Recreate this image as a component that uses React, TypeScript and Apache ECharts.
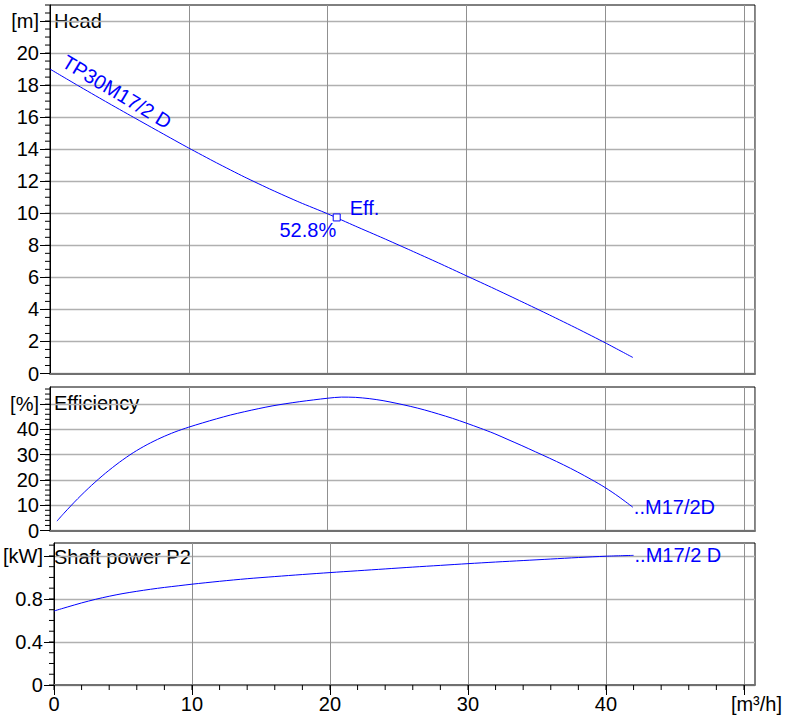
import React, { useEffect, useRef } from 'react';
import * as echarts from 'echarts';

// ---------- data ----------
const flowHead = [0, 2, 4, 6, 8, 10, 12, 14, 16, 18, 20, 22, 24, 26, 28, 30, 32, 34, 36, 38, 40, 42];
const headValues = [19.0, 17.98, 16.98, 16.0, 15.03, 14.07, 13.15, 12.27, 11.45, 10.68, 9.97, 9.2, 8.45, 7.68, 6.9, 6.1, 5.3, 4.48, 3.65, 2.8, 1.92, 1.0];

const flowEff = [0.5, 1, 2, 3, 4, 5, 6, 7, 8, 9, 10, 11, 12, 13, 14, 15, 16, 17, 18, 19, 20, 21, 22, 23, 24, 25, 26, 27, 28, 29, 30, 31, 32, 33, 34, 35, 36, 37, 38, 39, 40, 41, 42];
const effValues = [3.7, 6.8, 12.6, 17.9, 22.7, 27.0, 30.8, 34.0, 36.7, 39.0, 40.9, 42.6, 44.2, 45.7, 47.0, 48.2, 49.3, 50.2, 51.0, 51.7, 52.35, 52.8, 52.7, 52.2, 51.4, 50.3, 49.1, 47.7, 46.1, 44.4, 42.5, 40.5, 38.4, 36.0, 33.6, 31.1, 28.6, 26.0, 23.2, 20.2, 17.0, 13.3, 9.2];

const flowPower = [0, 1, 2, 3, 4, 5, 6, 7, 8, 9, 10, 12, 14, 16, 18, 20, 22, 24, 26, 28, 30, 32, 34, 36, 38, 40, 42];
const powerValues = [0.688, 0.726, 0.763, 0.796, 0.825, 0.85, 0.871, 0.89, 0.907, 0.922, 0.937, 0.964, 0.988, 1.008, 1.027, 1.045, 1.062, 1.079, 1.096, 1.112, 1.128, 1.143, 1.157, 1.171, 1.185, 1.197, 1.205];

const bepFlow = 20.66;
const bepHead = 9.74;
const bepEffText = '52.8%';
const pumpName = 'TP30M17/2 D';
const effEndText = '..M17/2D';
const powerEndText = '..M17/2 D';

// ---------- ticks ----------
const xLabelValues = [0, 10, 20, 30, 40, 50];
const xUnit = '[m³/h]';
const headLabelValues = [0, 2, 4, 6, 8, 10, 12, 14, 16, 18, 20, 22];
const headUnit = '[m]';
const effLabelValues = [0, 10, 20, 30, 40, 50];
const effUnit = '[%]';
const powerLabelValues = [0, 0.4, 0.8, 1.2];
const powerUnit = '[kW]';

const X_MAX = 50.8;
const HEAD_MAX = 23;
const EFF_MAX = 56.8;
const POWER_MAX = 1.32;

function steps(start: number, end: number, step: number): number[] {
  const out: number[] = [];
  for (let i = 0; start + i * step <= end + 1e-9; i++) {
    out.push(Math.round((start + i * step) * 1000) / 1000);
  }
  return out;
}
const xMinor = steps(0, 50, 2);
const headMinor = steps(0, 23, 0.5);
const effMinor = steps(0, 56, 2);
const powerMinor = steps(0, 1.3, 0.1);

function interp(xs: number[], ys: number[], x: number): number {
  for (let i = 0; i < xs.length - 1; i++) {
    if (x >= xs[i] && x <= xs[i + 1]) {
      const t = (x - xs[i]) / (xs[i + 1] - xs[i]);
      return ys[i] + t * (ys[i + 1] - ys[i]);
    }
  }
  return ys[ys.length - 1];
}

const FONT = '"Liberation Sans", Arial, Helvetica, sans-serif';
const FS = 20;
const BLUE = '#0000ff';
const H_GRID = '#b0b0b0';
const V_GRID = '#909090';

const grids = [
  { left: 50, right: 34, top: 5, height: 368.5 },
  { left: 50, right: 34, top: 387, height: 143.5 },
  { left: 50, right: 34, top: 543, height: 142 },
];

function unitFormatter(unitVal: number, unit: string) {
  return (v: number) => (Math.abs(v - unitVal) < 1e-6 ? unit : String(v));
}

function majorY(gridIndex: number, max: number, interval: number, labels: number[], unit: string) {
  return {
    type: 'value',
    gridIndex,
    min: 0,
    max,
    interval,
    position: 'left',
    axisLine: { show: true, lineStyle: { color: '#000', width: 1 } },
    axisTick: { show: true, length: 10, customValues: labels, lineStyle: { color: '#000', width: 1 } },
    axisLabel: {
      show: true,
      customValues: labels,
      formatter: unitFormatter(labels[labels.length - 1], unit),
      color: '#000',
      fontSize: FS,
      fontFamily: FONT,
      margin: 11,
    },
    splitLine: { show: true, lineStyle: { color: H_GRID, width: 1.4 } },
  };
}

function plainX(gridIndex: number) {
  return {
    type: 'value',
    gridIndex,
    min: 0,
    max: X_MAX,
    interval: 10,
    axisLine: { show: true, onZero: false, lineStyle: { color: '#707070', width: 2 } },
    axisTick: { show: false },
    axisLabel: { show: false },
    splitLine: { show: true, lineStyle: { color: V_GRID, width: 1 } },
  };
}

// minor ticks drawn through the axes' own scales
function yMinorSeries(xAxisIndex: number, yAxisIndex: number, values: number[]) {
  return {
    type: 'custom',
    xAxisIndex,
    yAxisIndex,
    silent: true,
    clip: false,
    z: 5,
    data: values.map((v) => [0, v]),
    renderItem: (_params: any, api: any) => {
      const p = api.coord([0, api.value(1)]);
      return {
        type: 'line',
        shape: { x1: p[0] - 5, y1: p[1], x2: p[0], y2: p[1] },
        style: { stroke: '#000', lineWidth: 1 },
      };
    },
  };
}

function xMinorSeries(xAxisIndex: number, yAxisIndex: number, values: number[]) {
  return {
    type: 'custom',
    xAxisIndex,
    yAxisIndex,
    silent: true,
    clip: false,
    z: 5,
    data: values.map((v) => [v, 0]),
    renderItem: (_params: any, api: any) => {
      const p = api.coord([api.value(0), 0]);
      return {
        type: 'line',
        shape: { x1: p[0], y1: p[1], x2: p[0], y2: p[1] + 5 },
        style: { stroke: '#000', lineWidth: 1 },
      };
    },
  };
}

export default function App() {
  const ref = useRef<HTMLDivElement>(null);

  useEffect(() => {
    if (!ref.current) return;
    const chart = echarts.init(ref.current, undefined, { renderer: 'svg' });

    const labelPos = 4.3;
    const option: any = {
      animation: false,
      backgroundColor: '#ffffff',
      textStyle: { fontFamily: FONT },
      grid: grids.map((g) => ({ ...g, show: true, borderColor: '#000', borderWidth: 1, backgroundColor: '#fff' })),
      xAxis: [
        plainX(0),
        plainX(1),
        {
          ...plainX(2),
          axisTick: { show: true, length: 10, customValues: xLabelValues, lineStyle: { color: '#000', width: 1 } },
          axisLabel: {
            show: true,
            customValues: xLabelValues,
            color: '#000',
            fontSize: FS,
            fontFamily: FONT,
            margin: 9,
            formatter: (v: number) => (v === 50 ? '{u|' + xUnit + '}' : String(v)),
            rich: { u: { fontSize: FS, fontFamily: FONT, color: '#000', padding: [0, 0, 0, 25] } },
          },
        },
      ],
      yAxis: [
        majorY(0, HEAD_MAX, 2, headLabelValues, headUnit),
        majorY(1, EFF_MAX, 10, effLabelValues, effUnit),
        majorY(2, POWER_MAX, 0.4, powerLabelValues, powerUnit),
      ],
      series: [
        {
          type: 'line',
          xAxisIndex: 0,
          yAxisIndex: 0,
          data: flowHead.map((f, i) => [f, headValues[i]]),
          showSymbol: false,
          smooth: 0.2,
          z: 3,
          lineStyle: { color: BLUE, width: 1 },
          itemStyle: { color: BLUE },
          markPoint: {
            silent: true,
            data: [
              {
                coord: [labelPos, interp(flowHead, headValues, labelPos)],
                symbol: 'circle',
                symbolSize: 1,
                itemStyle: { color: 'rgba(0,0,0,0)' },
                label: {
                  show: true,
                  formatter: pumpName,
                  position: 'inside',
                  rotate: -31,
                  offset: [0, -14],
                  color: BLUE,
                  fontSize: FS,
                  fontFamily: FONT,
                },
              },
              {
                coord: [bepFlow, bepHead],
                symbol: 'circle',
                symbolSize: 1,
                itemStyle: { color: 'rgba(0,0,0,0)' },
                label: {
                  show: true,
                  formatter: bepEffText,
                  position: 'left',
                  distance: 0,
                  offset: [0, 13],
                  color: BLUE,
                  fontSize: FS,
                  fontFamily: FONT,
                },
              },
              {
                coord: [bepFlow, bepHead],
                symbol: 'rect',
                symbolSize: 7,
                itemStyle: { color: '#fff', borderColor: BLUE, borderWidth: 1 },
                label: {
                  show: true,
                  formatter: 'Eff.',
                  position: 'right',
                  distance: 9,
                  offset: [0, -9],
                  color: BLUE,
                  fontSize: FS,
                  fontFamily: FONT,
                },
              },
            ],
          },
        },
        {
          type: 'line',
          xAxisIndex: 1,
          yAxisIndex: 1,
          data: flowEff.map((f, i) => [f, effValues[i]]),
          showSymbol: false,
          smooth: 0.3,
          z: 3,
          lineStyle: { color: BLUE, width: 1 },
          itemStyle: { color: BLUE },
          endLabel: { show: true, formatter: effEndText, color: BLUE, fontSize: FS, fontFamily: FONT, distance: 1 },
        },
        {
          type: 'line',
          xAxisIndex: 2,
          yAxisIndex: 2,
          data: flowPower.map((f, i) => [f, powerValues[i]]),
          showSymbol: false,
          smooth: 0.3,
          z: 3,
          lineStyle: { color: BLUE, width: 1 },
          itemStyle: { color: BLUE },
          endLabel: { show: true, formatter: powerEndText, color: BLUE, fontSize: FS, fontFamily: FONT, distance: 1 },
        },
        yMinorSeries(0, 0, headMinor),
        yMinorSeries(1, 1, effMinor),
        yMinorSeries(2, 2, powerMinor),
        xMinorSeries(2, 2, xMinor),
      ],
      graphic: [
        { type: 'text', x: 54, y: 21, silent: true, style: { text: 'Head', fill: '#000', fontSize: FS, fontFamily: FONT, verticalAlign: 'middle', align: 'left' } },
        { type: 'text', x: 54, y: 403, silent: true, style: { text: 'Efficiency', fill: '#000', fontSize: FS, fontFamily: FONT, verticalAlign: 'middle', align: 'left' } },
        { type: 'text', x: 54, y: 557, silent: true, style: { text: 'Shaft power P2', fill: '#000', fontSize: FS, fontFamily: FONT, verticalAlign: 'middle', align: 'left' } },
      ],
    };

    chart.setOption(option);
    return () => {
      chart.dispose();
    };
  }, []);

  return <div ref={ref} style={{ position: 'fixed', left: 0, top: 0, width: 789, height: 724, background: '#fff' }} />;
}
